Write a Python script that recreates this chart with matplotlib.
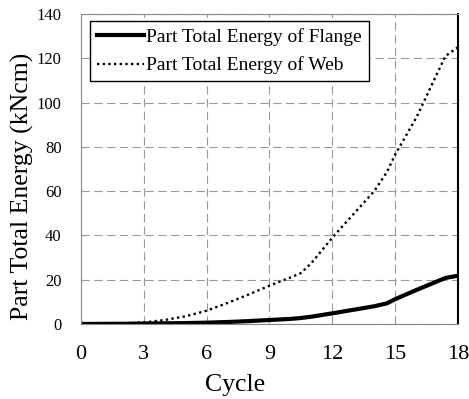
import matplotlib
matplotlib.use('Agg')
import matplotlib.pyplot as plt

# values
cycle = [0, 1, 2, 3, 4, 5, 6, 7, 8, 9, 10, 10.5, 11, 12, 13, 14, 14.6, 15, 16, 17, 17.4, 18]
flange = [0, 0.05, 0.1, 0.2, 0.3, 0.4, 0.6, 0.9, 1.3, 1.8, 2.3, 2.7, 3.3, 4.8, 6.4, 8.0, 9.3, 11.2, 15.3, 19.2, 20.8, 21.8]
web = [0, 0.05, 0.2, 0.7, 1.8, 3.5, 6.0, 9.5, 13.3, 17.3, 21.0, 23.0, 27.5, 39.0, 49.5, 60.0, 68.5, 76.5, 93.0, 113.0, 121.0, 125.0]

x_ticks = [0, 3, 6, 9, 12, 15, 18]
y_ticks = [0, 20, 40, 60, 80, 100, 120, 140]

plt.rcParams['font.family'] = ['Liberation Serif', 'DejaVu Serif']

fig = plt.figure(figsize=(4.69, 3.99), dpi=100)
ax = fig.add_axes([0.1727, 0.188, 0.8038, 0.777])

ax.plot(cycle, flange, color='black', linewidth=3, label='Part Total Energy of Flange')
ax.plot(cycle, web, color='black', linestyle=(0, (1, 1.4)), linewidth=1.7,
        label='Part Total Energy of Web')

ax.set_xlim(0, 18)
ax.set_ylim(0, 140)
ax.set_xticks(x_ticks)
ax.set_yticks(y_ticks)
ax.tick_params(length=0)
ax.tick_params(axis='x', labelsize=16, pad=15)
ax.tick_params(axis='y', labelsize=12, pad=14)
ax.grid(True, color='#999999', linestyle=(0, (7.5, 4)), linewidth=0.8)

for side in ['left', 'bottom', 'top']:
    ax.spines[side].set_color('#888888')
ax.spines['right'].set_color('black')
ax.spines['right'].set_linewidth(1.5)

ax.set_xlabel('Cycle', fontsize=18.5)
ax.xaxis.set_label_coords(0.408, -0.162)
ax.set_ylabel('Part Total Energy (kNcm)', fontsize=18.5)
ax.yaxis.set_label_coords(-0.125, 0.445)

leg = ax.legend(loc='upper left', bbox_to_anchor=(0.024, 0.977), fontsize=14,
                frameon=True, fancybox=False, edgecolor='black',
                handlelength=2.4, handletextpad=0.15, borderaxespad=0,
                labelspacing=0.55, borderpad=0.35)
leg.get_frame().set_linewidth(1)
leg.get_frame().set_alpha(1)

plt.savefig('out.png', dpi=100)
